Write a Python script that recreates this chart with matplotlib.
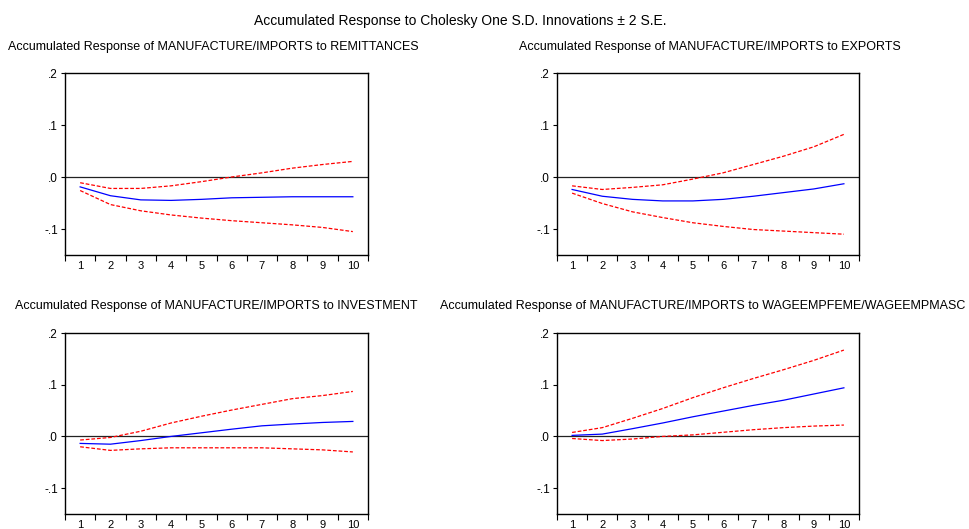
import matplotlib
matplotlib.use("Agg")
import matplotlib.pyplot as plt
import numpy as np

plt.rcParams["font.family"] = ["Liberation Sans", "DejaVu Sans"]

periods = [1, 2, 3, 4, 5, 6, 7, 8, 9, 10]

titles = [
    "Accumulated Response of MANUFACTURE/IMPORTS to REMITTANCES",
    "Accumulated Response of MANUFACTURE/IMPORTS to EXPORTS",
    "Accumulated Response of MANUFACTURE/IMPORTS to INVESTMENT",
    "Accumulated Response of MANUFACTURE/IMPORTS to WAGEEMPFEME/WAGEEMPMASC",
]

# accumulated responses and +/- 2 S.E. bands
remit_resp = [-0.019, -0.036, -0.044, -0.045, -0.043, -0.040, -0.039, -0.038, -0.038, -0.038]
remit_hi = [-0.011, -0.022, -0.022, -0.017, -0.009, 0.000, 0.008, 0.017, 0.024, 0.030]
remit_lo = [-0.026, -0.053, -0.065, -0.073, -0.079, -0.084, -0.088, -0.092, -0.097, -0.105]

export_resp = [-0.024, -0.037, -0.043, -0.046, -0.046, -0.043, -0.037, -0.030, -0.023, -0.013]
export_hi = [-0.017, -0.024, -0.020, -0.015, -0.004, 0.008, 0.024, 0.040, 0.058, 0.082]
export_lo = [-0.031, -0.051, -0.067, -0.078, -0.088, -0.095, -0.101, -0.104, -0.107, -0.110]

invest_resp = [-0.0135, -0.015, -0.008, 0.000, 0.007, 0.014, 0.0205, 0.024, 0.027, 0.029]
invest_hi = [-0.007, -0.002, 0.010, 0.026, 0.039, 0.051, 0.062, 0.073, 0.079, 0.087]
invest_lo = [-0.020, -0.027, -0.024, -0.022, -0.022, -0.022, -0.022, -0.024, -0.026, -0.030]

wage_resp = [0.002, 0.0045, 0.015, 0.026, 0.038, 0.049, 0.060, 0.070, 0.082, 0.094]
wage_hi = [0.0077, 0.017, 0.035, 0.054, 0.075, 0.094, 0.112, 0.129, 0.147, 0.167]
wage_lo = [-0.004, -0.008, -0.005, 0.000, 0.003, 0.008, 0.013, 0.017, 0.020, 0.022]

series = [
    (remit_resp, remit_hi, remit_lo),
    (export_resp, export_hi, export_lo),
    (invest_resp, invest_hi, invest_lo),
    (wage_resp, wage_hi, wage_lo),
]

W, H = 969, 529
fig = plt.figure(figsize=(W / 100, H / 100), dpi=100)

# panel boxes in pixels: left, top, right, bottom
boxes = [(65, 73, 368, 255), (557, 73, 859, 255), (65, 333, 368, 514), (557, 333, 859, 514)]
title_pos = [(8, 47), (519, 47), (15, 306), (440, 306)]

fig.text(460 / W, 1 - 21 / H, "Accumulated Response to Cholesky One S.D. Innovations \u00b1 2 S.E.",
         ha="center", va="center", fontsize=10)

for (resp, hi, lo), box, title, tpos in zip(series, boxes, titles, title_pos):
    l, t, r, b = box
    ax = fig.add_axes([l / W, 1 - b / H, (r - l) / W, (b - t) / H])
    ax.axhline(0, color="#222222", lw=0.9)
    ax.plot(periods, resp, color="blue", lw=0.9)
    ax.plot(periods, hi, color="red", lw=0.9, ls=(0, (3, 1.5)))
    ax.plot(periods, lo, color="red", lw=0.9, ls=(0, (3, 1.5)))
    ax.set_xlim(0.5, 10.5)
    ax.set_ylim(-0.15, 0.2)
    ax.set_yticks([-0.1, 0.0, 0.1, 0.2])
    ax.set_yticklabels(["-.1", ".0", ".1", ".2"])
    ax.set_xticks(np.arange(0.5, 11, 1))
    ax.set_xticklabels([])
    ax.set_xticks(periods, minor=True)
    ax.set_xticklabels([str(p) for p in periods], minor=True)
    ax.tick_params(axis="x", which="major", length=4, width=0.8, direction="out")
    ax.tick_params(axis="x", which="minor", length=0, pad=4, labelsize=8)
    ax.tick_params(axis="y", length=3, width=0.8, labelsize=8.5, pad=2)
    for s in ax.spines.values():
        s.set_linewidth(1.0)
    fig.text(tpos[0] / W, 1 - tpos[1] / H, title, ha="left", va="center", fontsize=9)

fig.savefig("out.png", dpi=100)
